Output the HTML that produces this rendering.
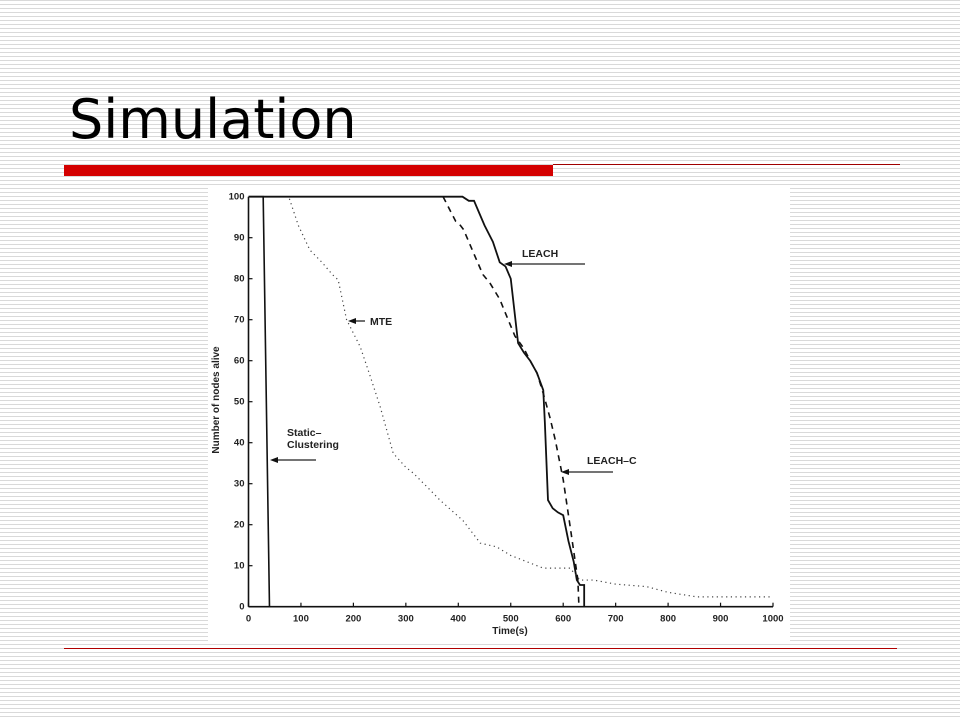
<!DOCTYPE html>
<html><head><meta charset="utf-8"><style>
body{margin:0;width:960px;height:720px;overflow:hidden;background:#fff;
background-image:repeating-linear-gradient(to bottom,#d9d9d9 0,#d9d9d9 1px,#fff 1px,#fff 4px);position:relative;font-family:"DejaVu Sans","Liberation Sans",sans-serif}
#title{position:absolute;left:69px;top:88px;font-size:54px;color:#000;margin:0;font-weight:normal}
.abs{position:absolute}
</style></head><body>
<h1 id="title">Simulation</h1>
<div class="abs" style="left:64px;top:165px;width:489px;height:11px;background:#d40000"></div>
<div class="abs" style="left:553px;top:164px;width:347px;height:1px;background:#a00000"></div>
<div class="abs" style="left:64px;top:648px;width:833px;height:1px;background:#b00000"></div>
<svg class="abs" style="left:0;top:0" width="960" height="720" font-family="Liberation Sans, sans-serif" font-weight="bold">
<rect x="208" y="185" width="582" height="457" fill="#fff"/>
<g id="g"></g>
</svg>
<script>
const xTicks=[0,100,200,300,400,500,600,700,800,900,1000];
const yTicks=[0,10,20,30,40,50,60,70,80,90,100];
const staticX=[0,28,40];
const staticY=[100,100,0];
const leachX=[0,408,420,430,440,450,466,479,490,500,514,525,537,550,562,565,571,580,590,600,610,620,626,632,640,640];
const leachY=[100,100,99,99,96,93,89,84,83,80,64.3,62,60,57,52.8,45,26,24,23,22.3,16,11,6.5,5.3,5.3,0];
const leachCX=[371,395,404,410,430,447,460,479,495,508,525,537,550,562,575,585,600,615,628,630];
const leachCY=[100,94,93,92,86,81,79,75,70,66,63,60,57,52,46,40.6,31,18,6.5,0];
const mteX=[78,95,117,140,160,171,187,213,230,251,276,300,314,346,365,409,442,473,500,530,562,590,613,632,658,700,759,800,855,900,1000];
const mteY=[99.5,93,87,84,81,79.7,70,63.4,57,48.8,37.4,34,32.6,28.5,26,21,15.5,14.6,12.5,11,9.4,9.4,9.4,6.5,6.5,5.5,4.9,3.5,2.4,2.4,2.4];
const X0=248.5,XS=0.5245,Y0=606.7,YS=4.1;
const xs=v=>X0+v*XS, ys=v=>Y0-v*YS;
const g=document.getElementById('g');const NS='http://www.w3.org/2000/svg';
function mk(t,a,p){const e=document.createElementNS(NS,t);for(const k in a)e.setAttribute(k,a[k]);(p||g).appendChild(e);return e;}
let e=mk('line',{x1:xs(0),y1:ys(0),x2:xs(1000),y2:ys(0),stroke:'#111','stroke-width':1.6});


e=mk('line',{x1:xs(0),y1:ys(0),x2:xs(0),y2:ys(100),stroke:'#111','stroke-width':1.6});


xTicks.forEach(t=>{
 e=mk('line',{x1:xs(t),y1:ys(0),x2:xs(t),y2:ys(0)-4,stroke:'#111','stroke-width':1.2});
 
 
 e=mk('text',{x:xs(t),y:ys(0)+15,'font-size':9.5,'text-anchor':'middle',fill:'#222'});e.textContent=t;
 
 
});
yTicks.forEach(t=>{
 e=mk('line',{x1:xs(0),y1:ys(t),x2:xs(0)+4,y2:ys(t),stroke:'#111','stroke-width':1.2});
 
 
 e=mk('text',{x:xs(0)-4,y:ys(t)+3,'font-size':9.5,'text-anchor':'end',fill:'#222'});e.textContent=t;
 
 
});
e=mk('text',{x:510,y:634,'font-size':10,'text-anchor':'middle',fill:'#222'});e.textContent='Time(s)';


e=mk('text',{x:219,y:400,'font-size':10,'text-anchor':'middle',fill:'#222',transform:'rotate(-90 219 400)'});e.textContent='Number of nodes alive';


function series(X,Y,name,extra){const pts=X.map((v,i)=>xs(v)+','+ys(Y[i])).join(' ');
 const el=mk('polyline',Object.assign({points:pts,fill:'none',stroke:'#111','stroke-width':1.6},extra));
 
 }
series(staticX,staticY,'static-clustering-line',{});
series(leachX,leachY,'leach-line',{'stroke-width':1.8});
series(leachCX,leachCY,'leach-c-line',{'stroke-dasharray':'6,5'});
series(mteX,mteY,'mte-line',{'stroke-dasharray':'1.2,3.5','stroke':'#444','stroke-width':1.2});
function ann(tx,ty,lines,ax1,ax2,ay,name){
 lines.forEach((l,i)=>{const t=mk('text',{x:tx,y:ty+i*12,'font-size':10.5,fill:'#222'});t.textContent=l;
  
  });
 const a=mk('line',{x1:ax1,y1:ay,x2:ax2+6,y2:ay,stroke:'#222','stroke-width':1.3});
 
 
 const h=mk('polygon',{points:`${ax2},${ay} ${ax2+8},${ay-3} ${ax2+8},${ay+3}`,fill:'#111'});
 
 
}
ann(522,257,['LEACH'],585,504,264,'leach');
ann(370,325,['MTE'],365,348,321,'mte');
ann(287,436,['Static\u2013','Clustering'],316,270,460,'static-clustering');
ann(587,464,['LEACH\u2013C'],613,561,472,'leach-c');
</script>
</body></html>
